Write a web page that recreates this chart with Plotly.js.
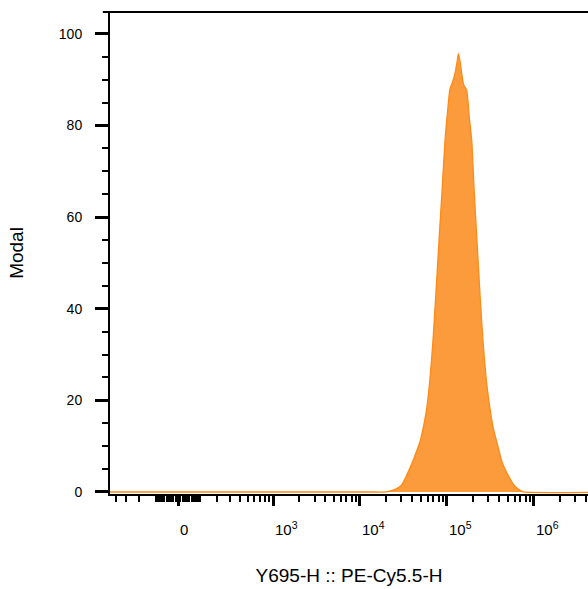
<!DOCTYPE html>
<html><head><meta charset="utf-8">
<script src="https://cdn.plot.ly/plotly-3.0.1.min.js"></script>
<style>html,body{margin:0;padding:0;background:#fff}</style>
</head><body>
<div id="chart" style="width:588px;height:589px"></div>
<script>
// Histogram: fluorescence intensity (PE-Cy5.5-H) and modal %
const intensity = [-2000, 15000, 20000, 25000, 30000, 34500, 40000, 45000, 49000, 54000, 58500, 64000, 69000, 75000, 81000, 88000, 95000, 101000, 108300, 116000, 123700, 131000, 135000, 140000, 147700, 155000, 168600, 180000, 192500, 205000, 221400, 240000, 259700, 285000, 312300, 340000, 373000, 430000, 503000, 600000, 700000, 760000, 1e7];
const modal     = [0, 0, 0, 0.5, 1.5, 3.7, 6.5, 9, 11, 14.5, 18.2, 25, 32.9, 44, 54.8, 66, 76.8, 82.5, 88, 89.5, 91.4, 94, 95.7, 94.5, 91.4, 89, 87.7, 82, 76.8, 66, 54.8, 43, 32.9, 24, 18.2, 14, 11, 6.5, 3.7, 1.3, 0.3, 0, 0];

// Axis ticks
const majorValues = [0, 1e3, 1e4, 1e5, 1e6];
const majorLabels = ['0', '10<sup>3</sup>', '10<sup>4</sup>', '10<sup>5</sup>', '10<sup>6</sup>'];
const yTickValues = [0, 20, 40, 60, 80, 100];
const xTitle = 'Y695-H :: PE-Cy5.5-H';
const yTitle = 'Modal';

// biexponential-like (arcsinh) display transform, in decades
const W = 162;
function T(v) { return Math.asinh(v / W) / Math.LN10; }

const minorValues = [];
for (const s of [-1, 1]) {
  for (let k = 1; k <= 6; k++) {
    for (let m = 1; m <= 9; m++) {
      const v = s * m * Math.pow(10, k);
      if (s > 0 && m === 1 && k >= 3) continue;
      minorValues.push(T(v));
    }
  }
}

const xRange = [-0.7816, 4.7126];
const inRange = d => d >= xRange[0] && d <= xRange[1];

const trace = {
  x: intensity.map(T),
  y: modal,
  type: 'scatter',
  mode: 'lines',
  line: { color: '#FF8A17', width: 1.3, shape: 'spline', smoothing: 0.6 },
  fill: 'tozeroy',
  fillcolor: 'rgba(252,150,48,0.95)',
  hoverinfo: 'skip'
};

const font = { family: 'Liberation Sans, Arial, sans-serif', color: '#000' };

const annotations = majorValues.map((v, i) => ({
  x: T(v), xref: 'x', y: 0, yref: 'paper',
  text: majorLabels[i], showarrow: false,
  xanchor: 'left', yanchor: 'bottom', yshift: -46,
  font: Object.assign({ size: 15 }, font)
}));

const layout = {
  width: 588, height: 589,
  margin: { l: 110, r: 0, t: 12, b: 95 },
  paper_bgcolor: '#fff', plot_bgcolor: '#fff',
  showlegend: false,
  font: font,
  xaxis: {
    range: xRange,
    showgrid: false, zeroline: false,
    showline: true, linecolor: '#000', linewidth: 2,
    ticks: 'outside', ticklen: 10, tickwidth: 3, tickcolor: '#000',
    tickmode: 'array', tickvals: majorValues.map(T).filter(inRange),
    showticklabels: false,
    minor: { tickmode: 'array', tickvals: minorValues.filter(inRange), ticks: 'outside', ticklen: 6, tickwidth: 2, tickcolor: '#000', showgrid: false },
    title: { text: xTitle, font: Object.assign({ size: 19 }, font), standoff: 64 }
  },
  yaxis: {
    range: [-0.44, 104.8],
    showgrid: false, zeroline: false,
    showline: true, linecolor: '#000', linewidth: 2,
    ticks: 'outside', ticklen: 13, tickwidth: 3, tickcolor: '#000',
    tickmode: 'array', tickvals: yTickValues,
    ticklabelstandoff: 10,
    tickfont: Object.assign({ size: 14 }, font),
    minor: { dtick: 5, ticks: 'outside', ticklen: 6, tickwidth: 2, tickcolor: '#000', showgrid: false },
    title: { text: yTitle, font: Object.assign({ size: 19 }, font), standoff: 30 }
  },
  shapes: [{ type: 'line', xref: 'paper', yref: 'paper', x0: -0.015, x1: 1, y0: 1, y1: 1, line: { color: '#000', width: 2 } }],
  annotations: annotations
};

Plotly.newPlot('chart', [trace], layout, { staticPlot: true, displayModeBar: false });
</script>
</body></html>
